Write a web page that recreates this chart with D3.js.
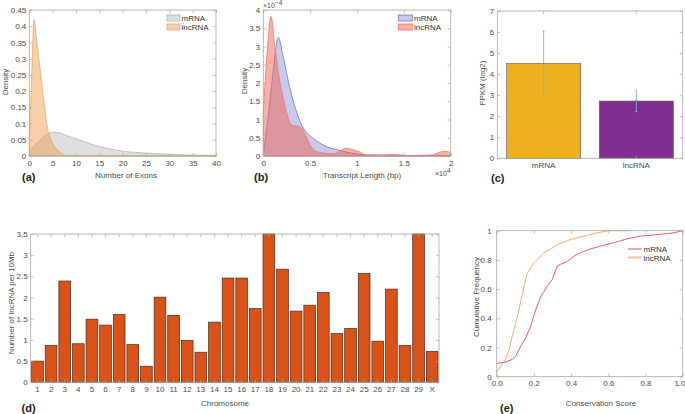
<!DOCTYPE html>
<html><head><meta charset="utf-8">
<script src="https://cdn.jsdelivr.net/npm/d3@7"></script>
<style>
html,body{margin:0;padding:0;background:#fff;}
svg{display:block;font-family:"Liberation Sans",Arial,Helvetica,sans-serif;}
</style></head>
<body><svg id="chart" width="685" height="414"></svg>
<script>
// ---------- DATA ----------
// (a) Number of exons density
const exonMrnaX = [0,1,2,3,4,5,6,7,8,10,12,15,18,20,25,30,35,40];
const exonMrnaY = [0.013,0.03,0.045,0.058,0.068,0.073,0.073,0.069,0.063,0.053,0.043,0.029,0.02,0.015,0.009,0.005,0.003,0.002];
const exonLncX = [0,0.5,1,1.5,2,2.5,3,3.5,4,4.5,5,6,7,8,10,40];
const exonLncY = [0.06,0.24,0.42,0.365,0.305,0.245,0.185,0.125,0.08,0.055,0.04,0.02,0.007,0.001,0,0];
// (b) Transcript length density (units of 1e-4)
const lenMrnaX = [0,500,1000,1600,2100,2800,3500,4200,5000,5700,6700,7800,9000,10000,12000,14000,16000,18000,20000];
const lenMrnaY = [0,1.05,2.2,3.25,2.75,1.9,1.25,0.8,0.55,0.41,0.26,0.18,0.1,0.05,0.02,0.015,0.01,0.01,0.01];
const lenLncX = [0,400,820,1250,1800,2300,3000,3900,4300,5000,5700,6500,7500,8300,8700,9500,10200,11000,12000,13000,14000,15000,16000,17000,18000,18800,19300,20000];
const lenLncY = [1.2,2.8,3.82,2.95,2.0,1.4,0.85,0.8,0.67,0.3,0.12,0.08,0.06,0.15,0.21,0.18,0.12,0.03,0.03,0.03,0.04,0.02,0.01,0.02,0.03,0.1,0.13,0.1];
// (c) FPKM
const fpkmCats = ["mRNA","lncRNA"];
const fpkmMean = [4.5, 2.72];
const fpkmLow = [2.95, 2.22];
const fpkmHigh = [6.05, 3.2];
// (d) lncRNA per chromosome
const chromLabels = ["1","2","3","4","5","6","7","8","9","10","11","12","13","14","15","16","17","18","19","20","21","22","23","24","25","26","27","28","29","X"];
const chromValues = [0.5,0.87,2.39,0.91,1.49,1.35,1.6,0.89,0.38,2.01,1.58,0.99,0.71,1.42,2.46,2.46,1.74,3.5,2.67,1.68,1.82,2.12,1.15,1.27,2.57,0.97,2.2,0.87,3.5,0.73];
// (e) Conservation score CDF
const consMrnaX = [0,0.048,0.084,0.102,0.129,0.156,0.183,0.21,0.237,0.272,0.299,0.326,0.344,0.38,0.416,0.452,0.496,0.559,0.631,0.703,0.774,0.882,0.953,1];
const consMrnaY = [0.091,0.10,0.119,0.14,0.21,0.267,0.347,0.46,0.55,0.62,0.667,0.758,0.77,0.79,0.826,0.85,0.872,0.895,0.918,0.945,0.963,0.975,0.986,1];
const consLncX = [0,0.022,0.048,0.066,0.093,0.12,0.147,0.165,0.2,0.237,0.254,0.29,0.326,0.398,0.47,0.541,0.604,0.72];
const consLncY = [0.03,0.073,0.119,0.187,0.324,0.46,0.62,0.71,0.78,0.826,0.85,0.872,0.906,0.94,0.963,0.986,1,1];

// ---------- STYLE ----------
const BOX = "#a8a8a8", TXT = "#4a4a4a", FS = 8, TICK = 3;
const svg = d3.select("#chart");

function fmt(d){ return String(+d.toFixed(3)); }

function axes(xS, yS, o){
  const g = svg.append("g");
  const [xa, xb] = o.xRange || xS.range();
  const [ya, yb] = yS.range(); // ya = bottom, yb = top
  const style = sel => {
    sel.select(".domain").remove();
    sel.selectAll("line").attr("stroke", BOX).attr("stroke-width", 0.7);
    sel.selectAll("text").attr("fill", TXT).attr("font-size", FS).attr("font-family", "Liberation Sans, Arial, sans-serif");
  };
  const bx = d3.axisBottom(xS).tickSize(-TICK).tickPadding(4);
  const tx = d3.axisTop(xS).tickSize(-TICK).tickFormat("");
  if (o.xTicks) { bx.tickValues(o.xTicks); tx.tickValues(o.xTicks); }
  if (o.xFmt) bx.tickFormat(o.xFmt);
  const ly = d3.axisLeft(yS).tickSize(-TICK).tickPadding(o.yPad || 3).tickValues(o.yTicks).tickFormat(o.yFmt || fmt);
  const ry = d3.axisRight(yS).tickSize(-TICK).tickFormat("").tickValues(o.yTicks);
  const gb = g.append("g").attr("transform",`translate(0,${ya})`).call(bx).call(style);
  g.append("g").attr("transform",`translate(0,${yb})`).call(tx).call(style);
  g.append("g").attr("transform",`translate(${xa},0)`).call(ly).call(style);
  g.append("g").attr("transform",`translate(${xb},0)`).call(ry).call(style);
  if (o.lastEnd) {
    const txts = gb.selectAll("text").nodes();
    d3.select(txts[txts.length-1]).attr("text-anchor","end").attr("x", 685 - xb);
  }
  g.append("rect").attr("x",xa).attr("y",yb).attr("width",xb-xa).attr("height",ya-yb)
    .attr("fill","none").attr("stroke",BOX).attr("stroke-width",0.8);
  return g;
}
function text(x,y,s,opt={}){
  const t = svg.append("text").attr("x",x).attr("y",y).attr("fill",opt.fill||TXT)
    .attr("font-size",opt.size||FS).attr("text-anchor",opt.anchor||"start")
    .attr("font-weight",opt.bold?"bold":"normal").text(s);
  if (opt.rot) t.attr("transform",`rotate(-90,${x},${y})`);
  return t;
}
function ylabel(x,y,s){ return text(x,y,s,{anchor:"middle",rot:true}); }

// ---------- (a) ----------
{
  const x = d3.scaleLinear().domain([0,40]).range([29.3,216]);
  const y = d3.scaleLinear().domain([0,0.45]).range([156,10]);
  const area = d3.area().x(d=>x(d[0])).y0(y(0)).y1(d=>y(d[1])).curve(d3.curveMonotoneX);
  svg.append("path").datum(d3.zip(exonMrnaX,exonMrnaY)).attr("d",area)
    .attr("fill","rgb(185,185,185)").attr("fill-opacity",0.45).attr("stroke","#b4b4b4").attr("stroke-width",0.8);
  svg.append("path").datum(d3.zip(exonLncX,exonLncY)).attr("d",area)
    .attr("fill","rgb(236,150,62)").attr("fill-opacity",0.45).attr("stroke","#eeaa66").attr("stroke-width",0.8);
  axes(x,y,{xTicks:d3.range(0,41,5), yTicks:d3.range(0,0.451,0.05)});
  // legend
  svg.append("rect").attr("x",167).attr("y",15).attr("width",13).attr("height",6)
    .attr("fill","rgb(185,185,185)").attr("fill-opacity",0.45).attr("stroke","#b4b4b4").attr("stroke-width",0.8);
  svg.append("rect").attr("x",167).attr("y",24).attr("width",13).attr("height",6)
    .attr("fill","rgb(236,150,62)").attr("fill-opacity",0.45).attr("stroke","#eeaa66").attr("stroke-width",0.8);
  text(181.5,21,"mRNA",{fill:"#333"}); text(181.5,30,"lncRNA",{fill:"#333"});
  ylabel(8,82,"Density");
  text(126,178,"Number of Exons",{anchor:"middle"});
  text(22,181,"(a)",{size:11,bold:true,fill:"#222"});
}
// ---------- (b) ----------
{
  const x = d3.scaleLinear().domain([0,20000]).range([263.3,450.7]);
  const y = d3.scaleLinear().domain([0,4]).range([156,10]);
  const area = d3.area().x(d=>x(d[0])).y0(y(0)).y1(d=>y(d[1])).curve(d3.curveMonotoneX);
  svg.append("path").datum(d3.zip(lenMrnaX,lenMrnaY)).attr("d",area)
    .attr("fill","rgb(120,120,205)").attr("fill-opacity",0.4).attr("stroke","#7474c4").attr("stroke-width",0.8);
  svg.append("path").datum(d3.zip(lenLncX,lenLncY)).attr("d",area)
    .attr("fill","rgb(240,100,80)").attr("fill-opacity",0.5).attr("stroke","#f07868").attr("stroke-width",0.8);
  axes(x,y,{xTicks:d3.range(0,20001,5000), xFmt:d=>fmt(d/1e4), yTicks:d3.range(0,4.01,0.5)});
  svg.append("rect").attr("x",398.3).attr("y",15).attr("width",14).attr("height",6)
    .attr("fill","rgb(120,120,205)").attr("fill-opacity",0.4).attr("stroke","#7474c4").attr("stroke-width",0.8);
  svg.append("rect").attr("x",398.3).attr("y",24).attr("width",14).attr("height",6)
    .attr("fill","rgb(240,100,80)").attr("fill-opacity",0.5).attr("stroke","#f07868").attr("stroke-width",0.8);
  text(414,21,"mRNA",{fill:"#333"}); text(414,30,"lncRNA",{fill:"#333"});
  const e1 = text(263,8,"×10",{size:7});
  e1.append("tspan").attr("dy",-3.5).attr("font-size",6.5).text("−4");
  const e2 = text(435,176,"×10",{size:7});
  e2.append("tspan").attr("dy",-3.5).attr("font-size",6.5).text("4");
  ylabel(247,81,"Density");
  text(362,178,"Transcript Length (bp)",{anchor:"middle"});
  text(254,181,"(b)",{size:11,bold:true,fill:"#222"});
}
// ---------- (c) ----------
{
  const x = d3.scaleBand().domain(fpkmCats).range([497.3,682.7]).paddingInner(0.2).paddingOuter(0.1);
  const y = d3.scaleLinear().domain([0,7]).range([158.3,11]);
  const cols = ["#EDB120","#7E2F8E"];
  svg.append("g").selectAll("rect").data(fpkmCats).join("rect")
    .attr("x",d=>x(d)).attr("width",x.bandwidth())
    .attr("y",(d,i)=>y(fpkmMean[i])).attr("height",(d,i)=>y(0)-y(fpkmMean[i]))
    .attr("fill",(d,i)=>cols[i]).attr("stroke","#5a5a5a").attr("stroke-width",0.6);
  const eb = svg.append("g").attr("stroke","#72b4e6").attr("stroke-width",0.9);
  fpkmCats.forEach((c,i)=>{
    const cx = x(c)+x.bandwidth()/2;
    eb.append("line").attr("x1",cx).attr("x2",cx).attr("y1",y(fpkmLow[i])).attr("y2",y(fpkmHigh[i]));
    eb.append("line").attr("x1",cx-1).attr("x2",cx+1).attr("y1",y(fpkmLow[i])).attr("y2",y(fpkmLow[i]));
    eb.append("line").attr("x1",cx-1).attr("x2",cx+1).attr("y1",y(fpkmHigh[i])).attr("y2",y(fpkmHigh[i]));
    eb.append("circle").attr("cx",cx).attr("cy",y(fpkmMean[i])).attr("r",0.8).attr("fill","#3a8fd0").attr("stroke","none");
  });
  axes(x,y,{xRange:[497.3,682.7], yTicks:d3.range(0,7.01,1)});
  ylabel(485,83,"FPKM (log2)");
  text(491,182,"(c)",{size:11,bold:true,fill:"#222"});
}
// ---------- (d) ----------
{
  const x = d3.scaleBand().domain(chromLabels).range([30.7,439]).paddingInner(0.14).paddingOuter(0.07);
  const y = d3.scaleLinear().domain([0,3.5]).range([382.3,234]);
  svg.append("g").selectAll("rect").data(chromLabels).join("rect")
    .attr("x",d=>x(d)).attr("width",x.bandwidth())
    .attr("y",(d,i)=>y(chromValues[i])).attr("height",(d,i)=>y(0)-y(chromValues[i]))
    .attr("fill","#D95319").attr("stroke","#4a2a1a").attr("stroke-width",0.7);
  axes(x,y,{xRange:[30.7,439], yTicks:d3.range(0,3.51,0.5)});
  ylabel(14,303,"Number of lncRNA per 10Mb");
  text(225,406,"Chromosome",{anchor:"middle"});
  text(21.5,412,"(d)",{size:11,bold:true,fill:"#222"});
}
// ---------- (e) ----------
{
  const x = d3.scaleLinear().domain([0,1]).range([496.7,682.7]);
  const y = d3.scaleLinear().domain([0,1]).range([376.7,230.7]);
  const line = d3.line().x(d=>x(d[0])).y(d=>y(d[1]));
  svg.append("path").datum(d3.zip(consMrnaX,consMrnaY)).attr("d",line)
    .attr("fill","none").attr("stroke","#f04848").attr("stroke-width",0.9);
  svg.append("path").datum(d3.zip(consLncX,consLncY)).attr("d",line)
    .attr("fill","none").attr("stroke","#f0a55c").attr("stroke-width",0.9);
  axes(x,y,{xTicks:d3.range(0,1.01,0.2), yTicks:d3.range(0,1.01,0.2), yPad:5, lastEnd:true});
  svg.append("line").attr("x1",628).attr("x2",641.7).attr("y1",249).attr("y2",249).attr("stroke","#f04848").attr("stroke-width",1);
  svg.append("line").attr("x1",628).attr("x2",641.7).attr("y1",257.5).attr("y2",257.5).attr("stroke","#f5c49a").attr("stroke-width",2);
  text(643.5,252,"mRNA",{fill:"#333"}); text(643.5,260.5,"lncRNA",{fill:"#333"});
  ylabel(479,297,"Cumulative Frequency");
  text(601,406,"Conservation Score",{anchor:"middle"});
  text(500,411.5,"(e)",{size:11,bold:true,fill:"#222"});
}
</script></body></html>
